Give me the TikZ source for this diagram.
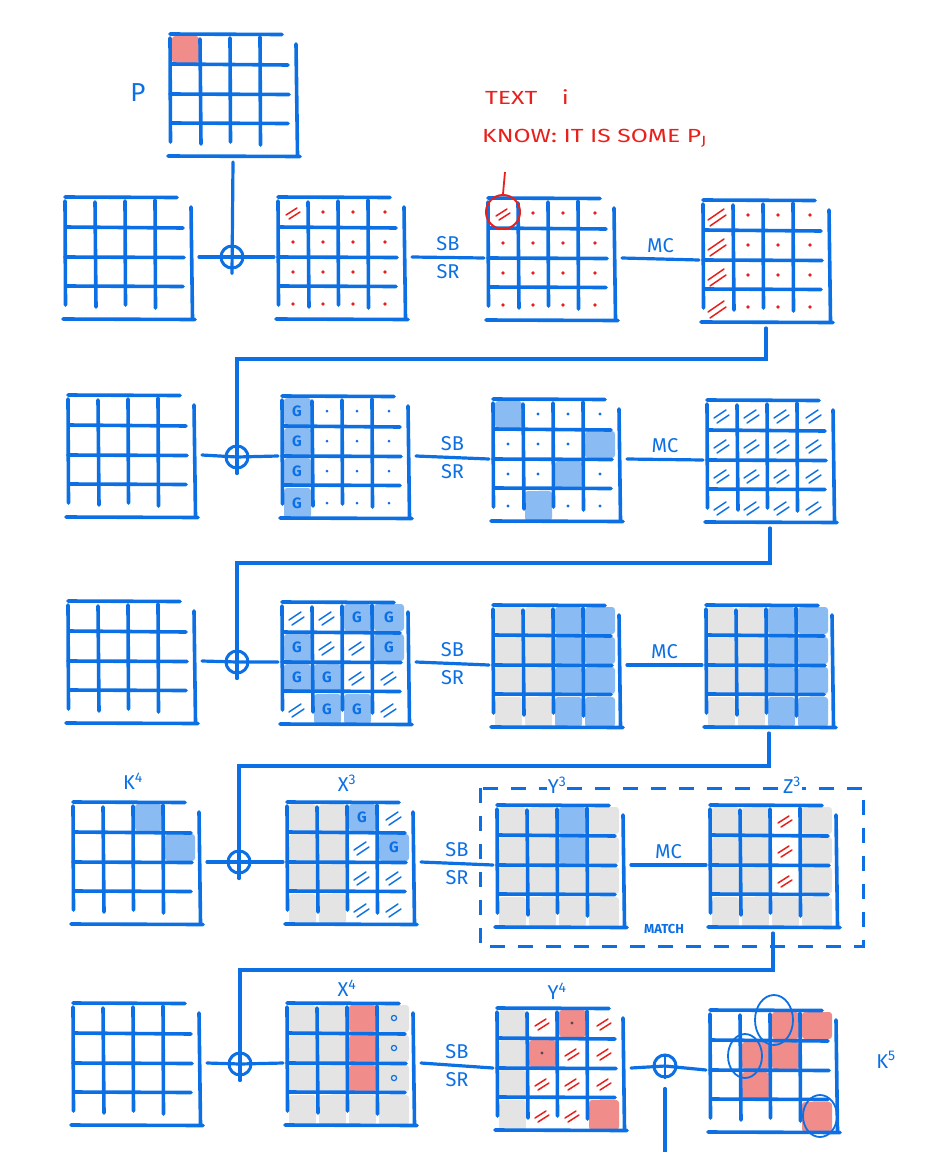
\documentclass[tikz,border=0pt]{standalone}
\usepackage{fontspec}
\setmainfont{Fira Sans}
\usetikzlibrary{calc}
\definecolor{blu}{RGB}{12,112,228}
\definecolor{lblu}{RGB}{138,187,242}
\definecolor{gry}{RGB}{228,228,228}
\definecolor{pnk}{RGB}{240,140,138}
\definecolor{redc}{RGB}{232,32,28}
\tikzset{
 gl/.style={line width=3.6pt,draw=blu,line cap=round},
 conn/.style={line width=3.2pt,draw=blu,line cap=round},
 xorsym/.style={circle,draw=blu,line width=3pt,minimum size=22pt,inner sep=0pt},
 lab/.style={text=blu,font=\fontsize{20}{20}\selectfont,inner sep=2pt},
 oplab/.style={lab,inner sep=5pt},
 rlab/.style={text=redc,font=\fontsize{19}{19}\selectfont,inner sep=0pt},
 bfill/.style={fill=lblu},
 gfill/.style={fill=gry},
 pfill/.style={fill=pnk},
}
\newcommand\gridat[3]{%
 \coordinate (#1) at (#2,#3);
 \coordinate (#1-n) at (#2+60,#3-4);
 \coordinate (#1-s) at (#2+63,#3+128);
 \coordinate (#1-w) at (#2-4,#3+60);
 \coordinate (#1-e) at (#2+134,#3+60);}
\newcommand\drawgrid[1]{%
 \begin{scope}[shift={(#1)}]
 \draw[gl] (0,0) -- (112,0.5);
 \draw[gl] (0,4) -- (0.5,108);
 \draw[gl] (30,5) -- (31,110) (60,4) -- (60.5,108) (90,3) -- (90.5,111);
 \draw[gl] (1,30) -- (118,31) (0,60) -- (119,60.5) (1,89) -- (118,89.5);
 \draw[gl] (126,10) -- (127.5,121);
 \draw[gl] (-2,122) -- (130,122.5);
 \end{scope}}
\newcommand\fillcells[3]{%
 \begin{scope}[shift={(#1)}]
 \foreach \c/\r in {#3} {\fill[#2,rounded corners=3pt] ({\c*30+2},{\r*30+2}) rectangle ({\c*30+29+3*(\c==3)},{\r*30+29+3*(\r==3)});}
 \end{scope}}
\newcommand\cellmarks[3]{%
 \begin{scope}[shift={(#1)}]
 \def\curgrid{#1}
 \foreach \c/\r in {#3} {\path ({\c*30+15+2*(\c==3)},{\r*30+15+2*(\r==3)}) coordinate (m); #2}
 \end{scope}}
\newcommand\rdot{\fill[redc] (m) circle (1.8);}
\newcommand\kdot{\fill[black!70] (m) circle (1.7);}
\newcommand\rhatch{\draw[redc,line width=1.5pt,line cap=round] (m) ++(-7,3) -- ++(11,-7) (m) ++(-4,7) -- ++(11,-7);}
\newcommand\rbighatch{\draw[redc,line width=1.5pt,line cap=round] (m) ++(-10,5) -- ++(16,-11) (m) ++(-8,11) -- ++(16,-11);}
\newcommand\bhatch{\draw[blu,line width=1.5pt,line cap=round] (m) ++(-8,3) -- ++(12,-8) (m) ++(-5,8) -- ++(12,-8);}
\newcommand\gmark{\node[text=blu,font=\fontsize{15}{15}\selectfont\bfseries,inner sep=0pt] (\curgrid-G\c\r) at (m) {G};}
\newcommand\omark{\draw[blu,line width=1.2pt] (m) circle (2.6);}
\begin{document}
\begin{tikzpicture}[x=1pt,y=-1pt]
\useasboundingbox (0,0) rectangle (926,1152);
% grid positions
\gridat{P}{170}{34}
\gridat{g10}{65}{197}\gridat{g11}{278}{197}\gridat{g12}{488}{198}\gridat{g13}{703}{200}
\gridat{g20}{68}{395}\gridat{g21}{282}{396}\gridat{g22}{493}{399}\gridat{g23}{707}{400}
\gridat{g30}{68}{601}\gridat{g31}{282}{602}\gridat{g32}{493}{605}\gridat{g33}{706}{605}
\gridat{g40}{73}{802}\gridat{g41}{287}{802}\gridat{g42}{497}{805}\gridat{g43}{710}{805}
\gridat{g50}{73}{1003}\gridat{g51}{287}{1003}\gridat{g52}{497}{1008}\gridat{g53}{710}{1010}
% fills
\fillcells{P}{pfill}{0/0}
\fillcells{g21}{bfill}{0/0,0/1,0/2,0/3}
\fillcells{g22}{bfill}{0/0,3/1,2/2,1/3}
\fillcells{g31}{bfill}{2/0,3/0,0/1,3/1,0/2,1/2,1/3,2/3}
\fillcells{g32}{gfill}{0/0,1/0,0/1,1/1,0/2,1/2,0/3,1/3}
\fillcells{g32}{bfill}{2/0,3/0,2/1,3/1,2/2,3/2,2/3,3/3}
\fillcells{g33}{gfill}{0/0,1/0,0/1,1/1,0/2,1/2,0/3,1/3}
\fillcells{g33}{bfill}{2/0,3/0,2/1,3/1,2/2,3/2,2/3,3/3}
\fillcells{g40}{bfill}{2/0,3/1}
\fillcells{g41}{gfill}{0/0,1/0,0/1,1/1,0/2,1/2,0/3,1/3}
\fillcells{g41}{bfill}{2/0,3/1}
\fillcells{g42}{gfill}{0/0,1/0,3/0,0/1,1/1,3/1,0/2,1/2,2/2,3/2,0/3,1/3,2/3,3/3}
\fillcells{g42}{bfill}{2/0,2/1}
\fillcells{g43}{gfill}{0/0,1/0,3/0,0/1,1/1,3/1,0/2,1/2,3/2,0/3,1/3,2/3,3/3}
\fillcells{g51}{gfill}{0/0,1/0,3/0,0/1,1/1,3/1,0/2,1/2,3/2,0/3,1/3,2/3,3/3}
\fillcells{g51}{pfill}{2/0,2/1,2/2}
\fillcells{g52}{gfill}{0/0,0/1,0/2,0/3}
\fillcells{g52}{pfill}{2/0,1/1,3/3}
\fillcells{g53}{pfill}{2/0,3/0,1/1,2/1,1/2,3/3}
% grids
\foreach \g in {P,g10,g11,g12,g13,g20,g21,g22,g23,g30,g31,g32,g33,g40,g41,g42,g43,g50,g51,g52,g53} {\drawgrid{\g}}
% marks row 1
\cellmarks{g11}{\rhatch}{0/0}
\cellmarks{g11}{\rdot}{1/0,2/0,3/0,0/1,1/1,2/1,3/1,0/2,1/2,2/2,3/2,0/3,1/3,2/3,3/3}
\cellmarks{g12}{\rhatch}{0/0}
\cellmarks{g12}{\rdot}{1/0,2/0,3/0,0/1,1/1,2/1,3/1,0/2,1/2,2/2,3/2,0/3,1/3,2/3,3/3}
\cellmarks{g13}{\rbighatch}{0/0,0/1,0/2,0/3}
\cellmarks{g13}{\rdot}{1/0,2/0,3/0,1/1,2/1,3/1,1/2,2/2,3/2,1/3,2/3,3/3}
% marks row 2
\cellmarks{g21}{\gmark}{0/0,0/1,0/2,0/3}
\cellmarks{g21}{\fill[blu] (m) circle (1.5);}{1/0,2/0,3/0,1/1,2/1,3/1,1/2,2/2,3/2,1/3,2/3,3/3}
\cellmarks{g22}{\fill[blu] (m) circle (1.7);}{1/0,2/0,3/0,0/1,1/1,2/1,0/2,1/2,3/2,0/3,2/3,3/3}
\cellmarks{g23}{\bhatch}{0/0,1/0,2/0,3/0,0/1,1/1,2/1,3/1,0/2,1/2,2/2,3/2,0/3,1/3,2/3,3/3}
% marks row 3
\cellmarks{g31}{\gmark}{2/0,3/0,0/1,3/1,0/2,1/2,1/3,2/3}
\cellmarks{g31}{\bhatch}{0/0,1/0,1/1,2/1,2/2,3/2,0/3,3/3}
% marks row 4
\cellmarks{g41}{\gmark}{2/0,3/1}
\cellmarks{g41}{\bhatch}{3/0,2/1,2/2,3/2,2/3,3/3}
\cellmarks{g43}{\rhatch}{2/0,2/1,2/2}
% marks row 5
\cellmarks{g51}{\omark}{3/0,3/1,3/2}
\cellmarks{g52}{\kdot}{2/0,1/1}
\cellmarks{g52}{\rhatch}{1/0,3/0,2/1,3/1,1/2,2/2,3/2,1/3,2/3}
\draw[blu,line width=1.8pt] (774,1020) ellipse (19 and 25);
\draw[blu,line width=1.8pt] (745,1056) ellipse (17 and 22);
\draw[blu,line width=1.8pt] (820,1116) ellipse (17 and 21);
% xor nodes
\node[xorsym] (x1) at (232,257) {};
\node[xorsym] (x2) at (237,457) {};
\node[xorsym] (x3) at (237,662) {};
\node[xorsym] (x4) at (239,862) {};
\node[xorsym] (x5) at (240,1064) {};
\node[xorsym] (x6) at (665,1066) {};
\draw[blu,line width=2.6pt] (x6.north) -- (x6.south);
% connectors row 0/1
\draw[conn] (P-s) -- ([yshift=-4pt]x1.south);
\draw[conn] (g10-e) -- (x1.center) -- (g11-w);
\draw[conn] (g11-e) -- node[oplab,above] (sb1) {SB} node[oplab,below] (sr1) {SR} (g12-w);
\draw[conn] (g12-e) -- node[oplab,above] (mc1) {MC} (g13-w);
% row 2
\coordinate (k2) at (237,359);
\draw[conn] (g13-s) |- (k2) -- ([yshift=-4pt]x2.south);
\draw[conn] (g20-e) -- (x2.center) -- (g21-w);
\draw[conn] (g21-e) -- node[oplab,above] (sb2) {SB} node[oplab,below] (sr2) {SR} (g22-w);
\draw[conn] (g22-e) -- node[oplab,above] (mc2) {MC} (g23-w);
% row 3
\coordinate (k3) at (237,563);
\draw[conn] (g23-s) |- (k3) -- ([yshift=-4pt]x3.south);
\draw[conn] (g30-e) -- (x3.center) -- (g31-w);
\draw[conn] (g31-e) -- node[oplab,above] (sb3) {SB} node[oplab,below] (sr3) {SR} (g32-w);
\draw[conn] (g32-e) -- node[oplab,above] (mc3) {MC} (g33-w);
% row 4
\coordinate (k4) at (239,766);
\draw[conn] (g33-s) |- (k4) -- ([yshift=-4pt]x4.south);
\draw[conn] (g40-e) -- (x4.center) -- (g41-w);
\draw[conn] (g41-e) -- node[oplab,above] (sb4) {SB} node[oplab,below] (sr4) {SR} (g42-w);
\draw[conn] (g42-e) -- node[oplab,above] (mc4) {MC} (g43-w);
\draw[blu,line width=3pt,dash pattern=on 15pt off 13pt] (480,788) rectangle (863,946);
\node[text=blu,font=\fontsize{13}{13}\selectfont\bfseries,inner sep=0pt] (match) at (664,929) {MATCH};
% row 5
\coordinate (k5) at (240,970);
\draw[conn] (g43-s) |- (k5) -- ([yshift=-4pt]x5.south);
\draw[conn] (g50-e) -- (x5.center) -- (g51-w);
\draw[conn] (g51-e) -- node[oplab,above] (sb5) {SB} node[oplab,below] (sr5) {SR} (g52-w);
\draw[conn] (g52-e) -- (x6.center) -- (g53-w);
\coordinate (bot) at (665,1152);
\draw[conn] ([yshift=-10pt]x6.south) -- (bot);
% labels
\node[lab,font=\fontsize{26}{26}\selectfont] (plab) at (138,93) {P};
\node[lab,anchor=south] (lk4) at ([yshift=6pt]g40-n) {K\textsuperscript{4}};
\node[lab,anchor=south] (lx3) at ([yshift=4pt]g41-n) {X\textsuperscript{3}};
\node[lab,anchor=south,fill=white,inner sep=1pt] (ly3) at ([yshift=6pt]g42-n) {Y\textsuperscript{3}};
\node[lab,anchor=south,fill=white,inner sep=1pt] (lz3) at ([xshift=22pt,yshift=6pt]g43-n) {Z\textsuperscript{3}};
\node[lab,anchor=south] (lx4) at ([yshift=0pt]g51-n) {X\textsuperscript{4}};
\node[lab,anchor=south] (ly4) at ([yshift=2pt]g52-n) {Y\textsuperscript{4}};
\node[lab] (lk5) at (886,1060) {K\textsuperscript{5}};
% red annotation
\node[circle,draw=redc,line width=2pt,minimum size=34pt,inner sep=0pt] (tc) at (503,212) {};
\coordinate (tctop) at (505,172);
\draw[redc,line width=1.8pt] (tc.north) -- (tctop);
\node[rlab,anchor=west] (t1) at (485,97) {\scalebox{1.3}[1]{TEXT\quad i}};
\node[rlab,anchor=west] (t2) at (482,138) {\scalebox{1.3}[1]{KNOW:\ IT IS SOME P\textsubscript{J}}};
\end{tikzpicture}
\end{document}
